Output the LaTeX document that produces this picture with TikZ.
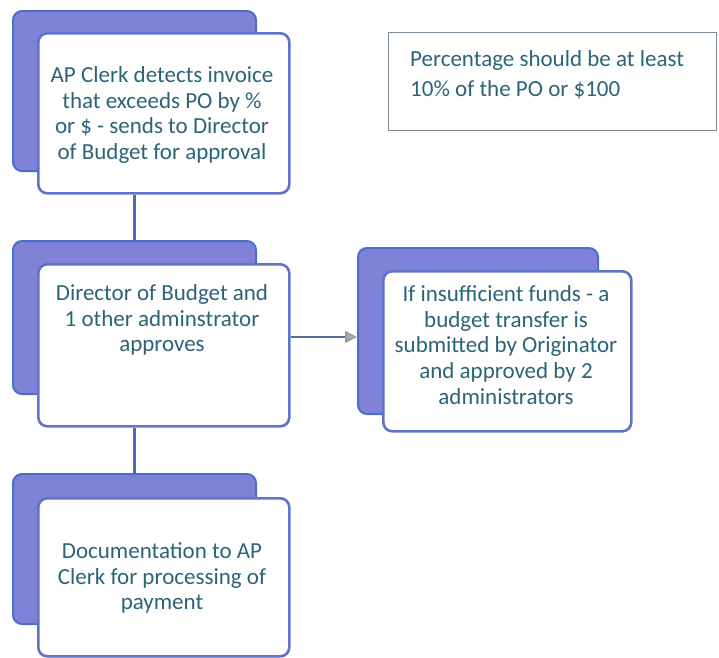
\documentclass[tikz,border=0pt]{standalone}
\usepackage{fontspec}
\setmainfont{Carlito}
\usetikzlibrary{arrows.meta}
\definecolor{backfill}{HTML}{7F82D6}
\definecolor{backline}{HTML}{4C6DCB}
\definecolor{frontline}{HTML}{5E74C9}
\definecolor{inktext}{HTML}{2B6479}
\definecolor{linkline}{HTML}{4A68B8}
\definecolor{arrowline}{HTML}{5C6F9C}
\definecolor{notebox}{HTML}{7D8A98}
\tikzset{
  backcard/.style={draw=backline, line width=2pt, fill=backfill, rounded corners=9pt, anchor=north west, inner sep=0pt},
  frontcard/.style={draw=frontline, line width=2.6pt, fill=white, rounded corners=9pt, anchor=north west, inner sep=0pt},
  cardtext/.style={text=inktext, align=center, font=\fontsize{23}{25.8}\selectfont, inner sep=0pt},
  link/.style={draw=linkline, line width=2.2pt},
  flowarrow/.style={draw=arrowline, line width=1.5pt, -{Triangle[length=12pt, width=12pt, fill=gray!65, color=gray!80]}},
}
\begin{document}
\begin{tikzpicture}[x=1pt, y=-1pt]
  \useasboundingbox (0,0) rectangle (719,657);

  % step 1: AP clerk
  \node[backcard, minimum width=243pt, minimum height=160pt] (b1) at (12,10) {};
  \node[frontcard, minimum width=251pt, minimum height=160pt] (f1) at (37,32) {};
  \node[cardtext] (t1) at (162,115) {AP Clerk detects invoice\\that exceeds PO by \%\\or \$ - sends to Director\\of Budget for approval};

  % step 2: director approval
  \node[backcard, minimum width=243pt, minimum height=153pt] (b2) at (12,240) {};
  \node[frontcard, minimum width=251pt, minimum height=162pt] (f2) at (37,263) {};
  \node[cardtext] (t2) at (162,320) {Director of Budget and\\1 other adminstrator\\approves};

  % step 3: documentation
  \node[backcard, minimum width=243pt, minimum height=150pt] (b3) at (12,473) {};
  \node[frontcard, minimum width=251pt, minimum height=158pt] (f3) at (37,497) {};
  \node[cardtext] (t3) at (162,578) {Documentation to AP\\Clerk for processing of\\payment};

  % side branch: budget transfer
  \node[backcard, minimum width=240pt, minimum height=166pt] (b4) at (357,247) {};
  \node[frontcard, minimum width=248pt, minimum height=160pt] (f4) at (382,270) {};
  \node[cardtext] (t4) at (506,345) {If insufficient funds - a\\budget transfer is\\submitted by Originator\\and approved by 2\\administrators};

  % threshold note
  \node[draw=notebox, line width=1.4pt, anchor=north west, minimum width=328pt, minimum height=98pt, inner sep=0pt] (note) at (388,32) {};
  \node[text=inktext, align=left, anchor=north west, font=\fontsize{23}{30}\selectfont, inner sep=0pt] (nt) at (410,50) {Percentage should be at least\\10\% of the PO or \$100};

  % connectors
  \draw[link] (b2.north) -- (b2.north |- f1.south);
  \draw[link] (b3.north) -- (b3.north |- f2.south);
  \coordinate (arrowrow) at (300,337);
  \draw[flowarrow] (f2.east |- arrowrow) -- (b4.west |- arrowrow);
\end{tikzpicture}
\end{document}
